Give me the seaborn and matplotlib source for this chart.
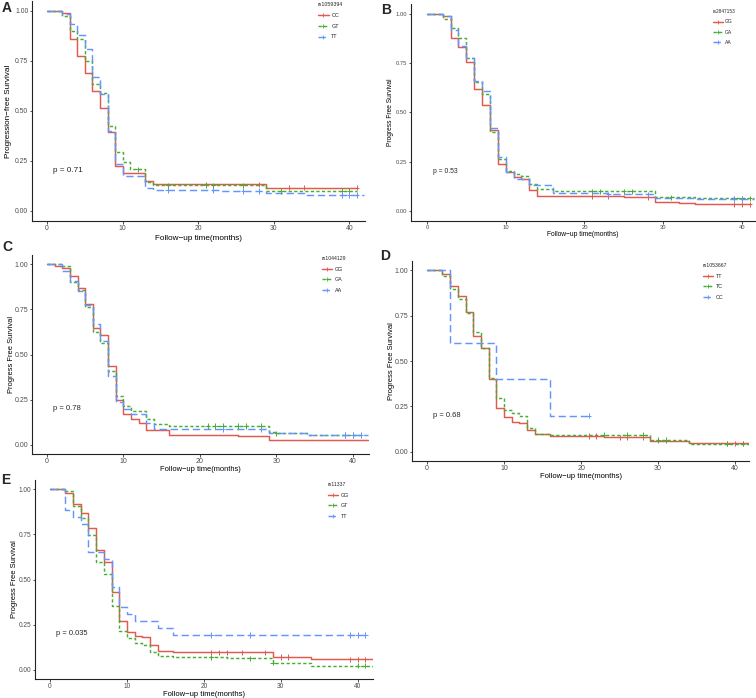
import numpy as np
import pandas as pd
import matplotlib
matplotlib.use("Agg")
import matplotlib.pyplot as plt
from matplotlib.lines import Line2D
import seaborn as sns

# ---------------- data ----------------
# Panel A : rs1059394
A_snp = "rs1059394"
A_groups = ["CC", "GT", "TT"]
A_CC_t = [2, 3, 4, 5, 6, 7, 8, 9, 10, 13, 14, 29]
A_CC_s = [0.99, 0.862, 0.775, 0.688, 0.60, 0.513, 0.397, 0.225, 0.19, 0.15, 0.133, 0.117]
A_CC_c = [21, 28, 32, 34, 41]
A_GT_t = [2, 3, 4, 5, 6, 7, 8, 9, 10, 11, 13, 14, 29]
A_GT_s = [0.975, 0.90, 0.858, 0.75, 0.635, 0.59, 0.423, 0.297, 0.243, 0.208, 0.145, 0.128, 0.10]
A_GT_c = [12, 16, 21, 22, 26, 31, 39, 40]
A_TT_t = [2, 3, 4, 5, 6, 7, 8, 9, 10, 13, 14, 23, 29, 34]
A_TT_s = [0.985, 0.933, 0.88, 0.81, 0.668, 0.583, 0.40, 0.235, 0.175, 0.113, 0.105, 0.10, 0.09, 0.08]
A_TT_c = [16, 22, 26, 28, 39, 40, 41]
A_end = [41, 41, 42]
A_pval = "p = 0.71"

# Panel B : rs2847153
B_snp = "rs2847153"
B_groups = ["GG", "GA", "AA"]
B_GG_t = [2, 3, 4, 5, 6, 7, 8, 9, 10, 11, 12, 13, 14, 25, 29, 32, 34]
B_GG_s = [0.99, 0.88, 0.832, 0.756, 0.62, 0.536, 0.41, 0.24, 0.196, 0.171, 0.165, 0.107, 0.076, 0.071, 0.046, 0.04, 0.034]
B_GG_c = [21, 23, 28, 39, 40, 41]
B_GA_t = [2, 3, 4, 5, 6, 7, 8, 9, 10, 11, 12, 13, 14, 16, 29, 34]
B_GA_s = [0.973, 0.926, 0.88, 0.775, 0.657, 0.594, 0.40, 0.266, 0.205, 0.188, 0.178, 0.139, 0.112, 0.10, 0.071, 0.065]
B_GA_c = [21, 22, 25, 26, 31, 39, 40, 41]
B_AA_t = [2, 3, 4, 5, 6, 7, 8, 9, 10, 11, 13, 16, 23, 29, 34]
B_AA_s = [0.99, 0.919, 0.835, 0.775, 0.66, 0.611, 0.423, 0.272, 0.20, 0.164, 0.13, 0.093, 0.085, 0.068, 0.062]
B_AA_c = [23, 28, 39, 40]
B_end = [41, 41.5, 41.5]
B_pval = "p = 0.53"

# Panel C : rs1044129
C_snp = "rs1044129"
C_groups = ["GG", "GA", "AA"]
C_GG_t = [1, 2, 3, 4, 5, 6, 7, 8, 9, 10, 11, 12, 13, 16, 25, 29]
C_GG_s = [0.989, 0.98, 0.935, 0.869, 0.78, 0.648, 0.609, 0.435, 0.249, 0.17, 0.144, 0.122, 0.083, 0.057, 0.05, 0.026]
C_GG_c = []
C_GA_t = [2, 3, 4, 5, 6, 7, 8, 9, 10, 11, 13, 14, 16, 29, 30, 34]
C_GA_s = [0.99, 0.90, 0.856, 0.76, 0.627, 0.563, 0.41, 0.268, 0.216, 0.188, 0.144, 0.116, 0.105, 0.07, 0.065, 0.055]
C_GA_c = [21, 22, 23, 25, 26, 28, 30, 39, 40]
C_AA_t = [2, 3, 4, 5, 6, 7, 8, 9, 10, 11, 13, 14, 16, 29, 34]
C_AA_s = [0.963, 0.908, 0.849, 0.775, 0.668, 0.576, 0.38, 0.24, 0.199, 0.173, 0.122, 0.09, 0.087, 0.065, 0.055]
C_AA_c = [23, 28, 39, 40, 41]
C_end = [42, 41, 42]
C_pval = "p = 0.78"

# Panel D : rs1053667
D_snp = "rs1053667"
D_groups = ["TT", "TC", "CC"]
D_TT_t = [2, 3, 4, 5, 6, 7, 8, 9, 10, 11, 12, 13, 14, 16, 23, 29, 34]
D_TT_s = [0.98, 0.915, 0.86, 0.771, 0.635, 0.572, 0.402, 0.24, 0.19, 0.164, 0.158, 0.122, 0.096, 0.087, 0.08, 0.06, 0.048]
D_TT_c = [21, 22, 25, 26, 28, 39, 40, 41]
D_TC_t = [2, 3, 4, 5, 6, 7, 8, 9, 10, 11, 12, 13, 14, 16, 29, 34]
D_TC_s = [0.969, 0.895, 0.843, 0.762, 0.66, 0.572, 0.408, 0.295, 0.232, 0.215, 0.20, 0.133, 0.10, 0.095, 0.066, 0.046]
D_TC_c = [23, 26, 28, 30, 31, 39, 41]
D_CC_t = [3, 9, 16]
D_CC_s = [0.60, 0.40, 0.20]
D_CC_c = [21]
D_end = [42, 42, 21]
D_pval = "p = 0.68"

# Panel E : rs11337
E_snp = "rs11337"
E_groups = ["GG", "GT", "TT"]
E_GG_t = [2, 3, 4, 5, 6, 7, 8, 9, 10, 11, 12, 13, 14, 16, 29, 34]
E_GG_s = [0.98, 0.915, 0.866, 0.787, 0.664, 0.596, 0.43, 0.27, 0.21, 0.19, 0.182, 0.14, 0.107, 0.097, 0.072, 0.059]
E_GG_c = [21, 22, 23, 25, 28, 30, 31, 39, 40, 41]
E_GT_t = [2, 3, 4, 5, 6, 7, 8, 9, 10, 11, 12, 13, 14, 16, 23, 29, 34]
E_GT_s = [0.99, 0.906, 0.838, 0.744, 0.596, 0.53, 0.351, 0.217, 0.175, 0.149, 0.14, 0.10, 0.075, 0.07, 0.065, 0.04, 0.024]
E_GT_c = [21, 26, 29, 40, 41]
E_TT_t = [2, 3, 4, 5, 7, 8, 9, 10, 11, 14, 16]
E_TT_s = [0.884, 0.844, 0.807, 0.654, 0.614, 0.456, 0.346, 0.309, 0.268, 0.232, 0.193]
E_TT_c = [21, 26, 39, 40, 41]
E_end = [42, 42, 41]
E_pval = "p = 0.035"

y_ticks = [0.0, 0.25, 0.50, 0.75, 1.00]
x_ticks = [0, 10, 20, 30, 40]
x_title = "Follow\u2212up time(months)"
yA_title = "Progression\u2212free Survival"
y_title = "Progress Free Survival"

# ---------------- styling ----------------
W, H = 756, 698
sns.set_theme(style="ticks")
plt.rcParams["font.family"] = ["Liberation Sans", "DejaVu Sans"]

COLORS = ["#E05A4E", "#45AE35", "#6593FF"]
DASHES = ["", (2.2, 1.6), (5.0, 2.6)]
LW = 1.05

fig = plt.figure(figsize=(W / 100, H / 100), dpi=100)


def to_ax(px_box):
    l, t, r, b = px_box
    return [l / W, 1 - b / H, (r - l) / W, (b - t) / H]


def surv_at(times, surv, c):
    v = 1.0
    for t, s in zip(times, surv):
        if t <= c:
            v = s
    return v


def draw_panel(box, xlim, letter, letter_xy, groups, ts, ss, cs, ends, snp,
               pval, ylabel, ylab_x, xlab_y, leg_xy, fs_lab, fs_tick, fs_p,
               fs_leg):
    ax = fig.add_axes(to_ax(box))
    pal = dict(zip(groups, COLORS))
    dash = dict(zip(groups, DASHES))
    rows, crow = [], []
    for g, t, s, c, e in zip(groups, ts, ss, cs, ends):
        tt = [0.0] + list(t) + [e]
        sv = [1.0] + list(s) + [s[-1]]
        rows.append(pd.DataFrame({"t": tt, "s": sv, "g": g}))
        for ci in c:
            crow.append({"t": ci, "s": surv_at(t, s, ci), "g": g})
    df = pd.concat(rows, ignore_index=True)
    sns.lineplot(data=df, x="t", y="s", hue="g", style="g", hue_order=groups,
                 style_order=groups, palette=pal, dashes=dash,
                 estimator=None, sort=False, drawstyle="steps-post",
                 linewidth=LW, legend=False, ax=ax)
    if crow:
        cdf = pd.DataFrame(crow)
        sns.scatterplot(data=cdf, x="t", y="s", hue="g", hue_order=groups,
                        palette=pal, marker="+", s=14, linewidth=0.7,
                        legend=False, ax=ax, zorder=5)
    ax.set_xlim(*xlim)
    ax.set_ylim(-0.05, 1.05)
    ax.set_xticks(x_ticks)
    ax.set_yticks(y_ticks)
    ax.set_yticklabels([f"{v:.2f}" for v in y_ticks])
    ax.tick_params(labelsize=fs_tick, length=1.8, width=0.6, pad=0.9,
                   colors="#333333", labelcolor="#4D4D4D")
    for sp in ["left", "bottom"]:
        ax.spines[sp].set_linewidth(0.8)
        ax.spines[sp].set_color("#222222")
    sns.despine(ax=ax)
    ax.set_xlabel(x_title, fontsize=fs_lab, color="black")
    ax.set_ylabel(ylabel, fontsize=fs_lab, color="black")
    l, t, r, b = box
    half = fs_lab * 100 / 72 * 0.5
    ax.yaxis.set_label_coords((ylab_x + half - l) / (r - l), 0.5)
    ax.xaxis.set_label_coords(0.5, (b - (xlab_y - half * 0.45)) / (b - t))
    ax.text(0.8, 0.2, pval, fontsize=fs_p, ha="left", va="center")
    fig.text(letter_xy[0] / W, 1 - letter_xy[1] / H, letter, fontsize=10,
             fontweight="bold", ha="left", va="center")
    handles = []
    for g, d in zip(groups, DASHES):
        ls = "-" if d == "" else (0, d)
        handles.append(Line2D([], [], color=pal[g], lw=LW, linestyle=ls,
                              marker="+", markersize=3, markeredgewidth=0.6))
    ax.legend(handles, groups, title=snp, loc="upper left",
              bbox_to_anchor=(leg_xy[0] / W, 1 - leg_xy[1] / H),
              bbox_transform=fig.transFigure, frameon=False,
              fontsize=fs_leg, title_fontsize=fs_leg - 0.2,
              handlelength=1.9, handletextpad=0.5, labelspacing=1.05,
              borderpad=0, borderaxespad=0, alignment="left")
    return ax


draw_panel((32, 1, 365, 221), (-2.0, 42.1), "A", (2, 8), A_groups,
           [A_CC_t, A_GT_t, A_TT_t], [A_CC_s, A_GT_s, A_TT_s],
           [A_CC_c, A_GT_c, A_TT_c], A_end, A_snp, A_pval, yA_title,
           8, 237, (318, 2), 5.9, 4.9, 5.9, 4.0)

draw_panel((411, 4, 755, 221), (-2.03, 41.65), "B", (381, 10), B_groups,
           [B_GG_t, B_GA_t, B_AA_t], [B_GG_s, B_GA_s, B_AA_s],
           [B_GG_c, B_GA_c, B_AA_c], B_end, B_snp, B_pval, y_title,
           391, 233, (713, 9), 4.8, 4.2, 4.9, 3.6)

draw_panel((32, 255, 369, 454), (-1.95, 42.1), "C", (2, 247), C_groups,
           [C_GG_t, C_GA_t, C_AA_t], [C_GG_s, C_GA_s, C_AA_s],
           [C_GG_c, C_GA_c, C_AA_c], C_end, C_snp, C_pval, y_title,
           11, 468, (322, 256), 5.4, 5.0, 5.5, 3.9)

draw_panel((412, 261, 749, 461), (-1.95, 41.8), "D", (380, 256), D_groups,
           [D_TT_t, D_TC_t, D_CC_t], [D_TT_s, D_TC_s, D_CC_s],
           [D_TT_c, D_TC_c, D_CC_c], D_end, D_snp, D_pval, y_title,
           391, 475, (703, 263), 5.5, 5.0, 5.4, 3.9)

draw_panel((35, 480, 373, 679), (-1.95, 42.0), "E", (1, 480), E_groups,
           [E_GG_t, E_GT_t, E_TT_t], [E_GG_s, E_GT_s, E_TT_s],
           [E_GG_c, E_GT_c, E_TT_c], E_end, E_snp, E_pval, y_title,
           14, 693, (328, 482), 5.5, 4.7, 5.4, 3.9)

fig.savefig("out.png", dpi=100)
